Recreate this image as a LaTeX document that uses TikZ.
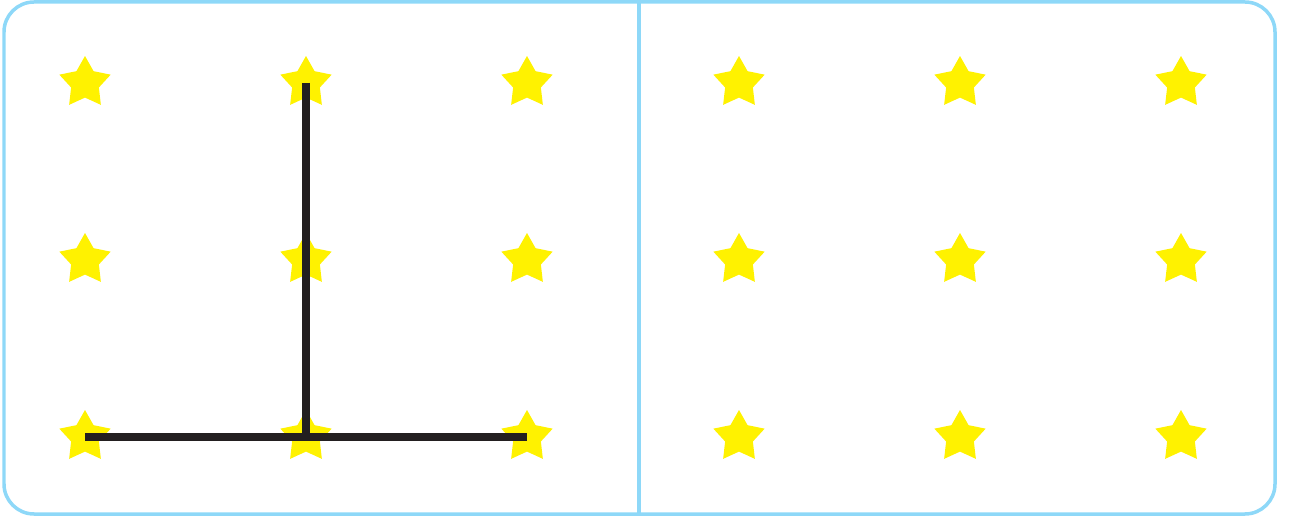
\documentclass[tikz,border=0pt]{standalone}
\usepackage{xcolor}
\usepackage{tikz}
\usetikzlibrary{shapes.geometric}

\definecolor{frameblue}{HTML}{8ED8F8}
\definecolor{staryellow}{HTML}{FFF200}
\definecolor{inkblack}{HTML}{231F20}

\begin{document}
\begin{tikzpicture}[
  x=0.02cm, y=-0.02cm,
  panel/.style={draw=frameblue, line width=0.07cm, rounded corners=0.6cm},
  divider/.style={draw=frameblue, line width=0.07cm},
  dot/.style={star, star points=5, star point ratio=1.85, fill=staryellow,
              draw=none, inner sep=0pt, minimum size=1.08cm},
  stick/.style={draw=inkblack, line width=0.16cm}
]

\useasboundingbox (0,0) rectangle (1289,520);

% --- Frame and divider ---
\draw[panel] (4,2) rectangle (1275,514);
\draw[divider] (639,2) -- (639,514);

% --- Star grids ---
\foreach \c/\x in {1/85, 2/306, 3/527} {
  \foreach \r/\y in {1/83, 2/260, 3/437} {
    \node[dot] (L\r\c) at (\x,\y) {};
  }
}
\foreach \c/\x in {1/739, 2/960, 3/1181} {
  \foreach \r/\y in {1/83, 2/260, 3/437} {
    \node[dot] (R\r\c) at (\x,\y) {};
  }
}

% --- Sticks ---
\draw[stick] (L31.center) -- (L33.center);
\draw[stick] (L12.center) -- (L32.center);

\end{tikzpicture}
\end{document}
